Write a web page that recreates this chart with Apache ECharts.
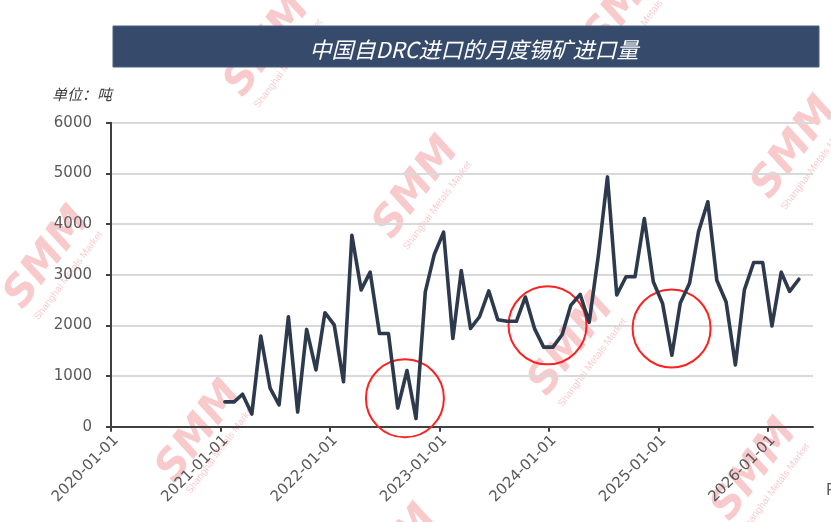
<!DOCTYPE html>
<html>
<head>
<meta charset="utf-8">
<script src="https://cdn.jsdelivr.net/npm/echarts@6/dist/echarts.min.js"></script>
<style>
html,body{margin:0;padding:0;background:#fff;}
#chart{width:831px;height:522px;}
</style>
</head>
<body>
<div id="chart"></div>
<script>
// ---- data ----
const titleText = '中国自DRC进口的月度锡矿进口量';
const unitText = '单位：吨';
const months = [
  '2021-01','2021-02','2021-03','2021-04','2021-05','2021-06','2021-07','2021-08','2021-09','2021-10','2021-11','2021-12',
  '2022-01','2022-02','2022-03','2022-04','2022-05','2022-06','2022-07','2022-08','2022-09','2022-10','2022-11','2022-12',
  '2023-01','2023-02','2023-03','2023-04','2023-05','2023-06','2023-07','2023-08','2023-09','2023-10','2023-11','2023-12',
  '2024-01','2024-02','2024-03','2024-04','2024-05','2024-06','2024-07','2024-08','2024-09','2024-10','2024-11','2024-12',
  '2025-01','2025-02','2025-03','2025-04','2025-05','2025-06','2025-07','2025-08','2025-09','2025-10','2025-11','2025-12',
  '2026-01','2026-02','2026-03','2026-04'
];
const imports = [
  490, 490, 640, 250, 1790, 760, 430, 2170, 290, 1920, 1120, 2250,
  2010, 890, 3780, 2700, 3050, 1840, 1840, 370, 1110, 160, 2660, 3400,
  3840, 1740, 3080, 1940, 2170, 2680, 2110, 2080, 2080, 2560, 1930, 1570,
  1570, 1820, 2400, 2610, 2060, 3400, 4930, 2600, 2960, 2960, 4110, 2860,
  2430, 1410, 2440, 2830, 3850, 4440, 2890, 2460, 1220, 2700, 3240, 3240,
  1990, 3050, 2670, 2910
];
const xTickLabels = ['2020-01-01','2021-01-01','2022-01-01','2023-01-01','2024-01-01','2025-01-01','2026-01-01'];
const xMin = '2020-01-01';
const xMax = '2026-06-01';
const yMin = 0, yMax = 6000, yInterval = 1000;
// annotation circles (date, value) marking dips
const circleNotes = [['2022-09-08', 560], ['2023-12-28', 2000], ['2025-02-14', 1940]];

// ---- build ----
const parse = s => +echarts.number.parseDate(s);
// monthly values plotted mid-month (between year tick marks like the source)
const seriesData = months.map((m, i) => [parse(m + '-15'), imports[i]]);
const tickValues = xTickLabels.map(parse);

const chart = echarts.init(document.getElementById('chart'), null, {renderer: 'canvas'});

// watermark decoration
const wmCenters = [[268, 46], [417, 188], [795, 148], [48, 258], [200, 432], [572, 345], [755, 470], [395, 556], [628, 0]];
const wmColor = 'rgba(232,90,95,0.32)';
const watermarks = wmCenters.map(c => ({
  type: 'group', x: c[0], y: c[1], rotation: 0.93, z: -5, silent: true,
  children: [
    {type: 'text', z: -5, style: {x: 0, y: 0, text: 'SMM', align: 'center', verticalAlign: 'middle',
      font: 'italic bold 42px "DejaVu Sans"', fill: wmColor}},
    {type: 'text', z: -5, style: {x: -2, y: 27, text: 'Shanghai Metals Market', align: 'center', verticalAlign: 'middle',
      font: '10px "Liberation Sans", Arial', fill: wmColor}}
  ]
}));

const option = {
  animation: false,
  backgroundColor: '#ffffff',
  title: [
    {text: titleText, left: 469, top: 34, textAlign: 'center', z: 20,
      textStyle: {color: '#ffffff', fontSize: 22, fontWeight: 'normal', fontStyle: 'italic',
        fontFamily: '"Noto Sans CJK SC", sans-serif'}},
    {text: unitText, left: 47, top: 82, z: 20,
      textStyle: {color: '#404040', fontSize: 15, fontWeight: 'normal', fontStyle: 'italic',
        fontFamily: '"Noto Sans CJK SC", sans-serif'}}
  ],
  graphic: {
    elements: watermarks.concat([
      {type: 'rect', z: 10, shape: {x: 113, y: 26, width: 706, height: 41},
        style: {fill: '#364b6b', stroke: '#4a5f80', lineWidth: 1}},
      {type: 'text', z: 10, style: {x: 826, y: 484, text: 'R', font: '15px "DejaVu Sans"', fill: '#595959'}}
    ])
  },
  grid: {left: 111, right: 18, top: 122.7, bottom: 95.3, containLabel: false},
  xAxis: {
    type: 'value', min: parse(xMin), max: parse(xMax), scale: true,
    axisLine: {show: true, onZero: false, lineStyle: {color: '#404040', width: 2}},
    axisTick: {show: true, length: 5, customValues: tickValues, lineStyle: {color: '#404040', width: 2}},
    splitLine: {show: false},
    axisLabel: {
      customValues: tickValues, rotate: 45, margin: 6, verticalAlign: 'top',
      color: '#595959', fontSize: 15, fontFamily: '"DejaVu Sans", sans-serif',
      formatter: v => { const i = tickValues.indexOf(+v); return i >= 0 ? xTickLabels[i] : ''; }
    }
  },
  yAxis: {
    type: 'value', min: yMin, max: yMax, interval: yInterval,
    axisLine: {show: true, lineStyle: {color: '#404040', width: 2}},
    axisTick: {show: true, length: 5, lineStyle: {color: '#404040', width: 2}},
    splitLine: {show: true, lineStyle: {color: '#d9d9d9', width: 2}},
    axisLabel: {margin: 19, color: '#595959', fontSize: 15, fontFamily: '"DejaVu Sans", sans-serif',
      formatter: v => String(v)}
  },
  series: [{
    type: 'line', data: seriesData, showSymbol: false, symbol: 'none', z: 5,
    lineStyle: {color: '#2d3a4d', width: 3.6, join: 'round', cap: 'round'},
    markPoint: {
      symbol: 'circle', symbolSize: 78, silent: true,
      label: {show: false},
      itemStyle: {color: 'rgba(0,0,0,0)', borderColor: '#ff2020', borderWidth: 2},
      data: circleNotes.map(c => ({coord: [parse(c[0]), c[1]]}))
    }
  }]
};
chart.setOption(option);
</script>
</body>
</html>
